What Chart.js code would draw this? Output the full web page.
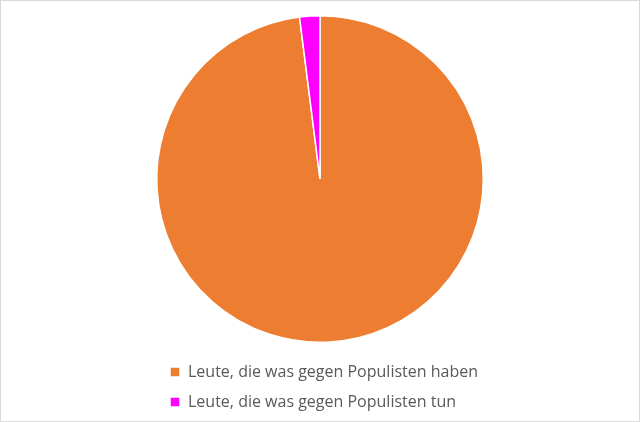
<!DOCTYPE html>
<html>
<head>
<meta charset="utf-8">
<script src="https://cdn.jsdelivr.net/npm/chart.js@4"></script>
<style>
  html, body { margin: 0; padding: 0; background: #fff; }
  #wrap { width: 640px; height: 422px; box-sizing: border-box; border: 1px solid #d9d9d9; }
  #wrap canvas { display: block; }
</style>
</head>
<body>
<div id="wrap"><canvas id="pie-chart" width="638" height="420"></canvas></div>
<script>
// Werte
var labels = ["Leute, die was gegen Populisten haben", "Leute, die was gegen Populisten tun"];
var values = [98, 2];
var colors = ["#ED7D31", "#FF00FF"];

new Chart(document.getElementById("pie-chart"), {
    type: 'pie',
    data: {
        labels: labels,
        datasets: [{
            data: values,
            backgroundColor: colors,
            borderColor: "#ffffff",
            borderWidth: 1.5
        }]
    },
    options: {
        responsive: false,
        animation: false,
        layout: { padding: { top: 7, left: 155, right: 155, bottom: 1 } },
        plugins: {
            tooltip: { enabled: false },
            legend: {
                display: true,
                position: 'bottom',
                align: 'start',
                fullSize: false,
                labels: {
                    boxWidth: 10,
                    boxHeight: 10,
                    padding: 14,
                    color: '#595959',
                    font: { family: 'Open Sans', size: 16 }
                }
            }
        }
    }
});
</script>
</body>
</html>
